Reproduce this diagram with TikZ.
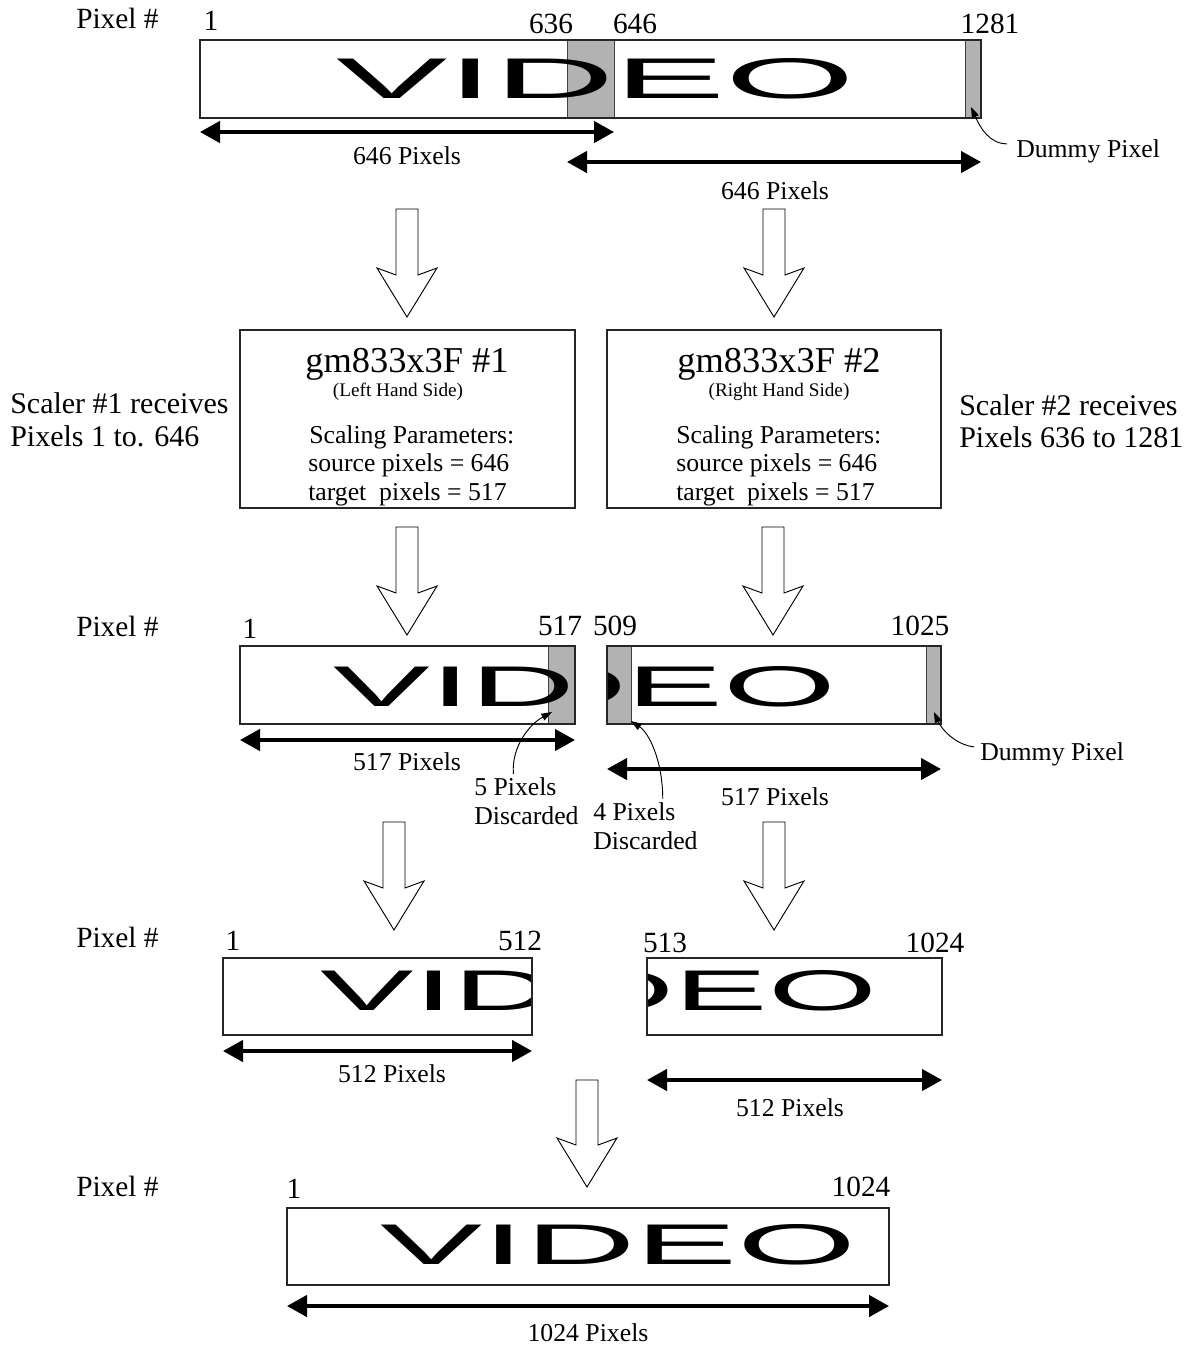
\documentclass[tikz,border=0pt]{standalone}
\usepackage{fontspec}
\setmainfont{Liberation Serif}
\newfontfamily\vidfont{Liberation Sans}
\usepackage{graphicx}
\usetikzlibrary{arrows.meta}
\definecolor{bandgray}{gray}{0.70}
\newcommand\videoword[2]{\scalebox{#1}[1]{\fontsize{43pt}{44pt}\selectfont\vidfont #2}}
\newcommand\hollowarrow[3]{%
  \draw[hollow] (#1-11,#2) -- (#1+11,#2) -- (#1+11,#3-42) -- (#1+30,#3-49) -- (#1,#3)
     -- (#1-30,#3-49) -- (#1-11,#3-42) -- cycle;}
\tikzset{
  framebox/.style={draw=black!85, line width=0.9pt},
  bandbox/.style={draw=black!75, line width=0.7pt, fill=bandgray},
  dimarrow/.style={line width=2.6pt, {Triangle[length=15pt,width=16pt]}-{Triangle[length=15pt,width=16pt]}},
  callout/.style={line width=0.7pt, -{Triangle[length=8pt,width=5.5pt]}},
  hollow/.style={draw=black, line width=0.7pt, fill=white, line join=miter},
  lbl/.style={font=\fontsize{19.3pt}{22pt}\selectfont, inner sep=0pt},
  num/.style={font=\fontsize{22pt}{24pt}\selectfont, inner sep=0pt},
  side/.style={font=\fontsize{22.5pt}{25pt}\selectfont, inner sep=0pt, anchor=base west},
  ttl/.style={font=\fontsize{27.3pt}{30pt}\selectfont, inner sep=0pt, anchor=base},
  small/.style={font=\fontsize{14.4pt}{16pt}\selectfont, inner sep=0pt, anchor=base},
  vid/.style={anchor=base west, inner sep=0pt, outer sep=0pt},
}
\begin{document}
\begin{tikzpicture}[x=0.75pt,y=-0.75pt]
\fill[white] (0,0) rectangle (1188,1347);
\useasboundingbox (0,0) rectangle (1188,1347);

% ---------------- Row 1 ----------------
\node[num,anchor=base west] (px1) at (76,28) {Pixel \#};
\node[num,anchor=base] (n1a) at (211,30) {1};
\node[num,anchor=base] (n1b) at (551,33) {636};
\node[num,anchor=base] (n1c) at (635,33) {646};
\node[num,anchor=base] (n1d) at (990,33) {1281};
\draw[bandbox] (567,40) rectangle (614,118);
\draw[bandbox] (965,40) rectangle (981,118);
\begin{scope}
  \clip (200,40) rectangle (981,118);
  \node[vid] (v1) at (336.5,98) {\videoword{2.907}{VIDEO}};
\end{scope}
\draw[framebox] (200,40) rectangle (981,118);
\coordinate (d1l) at (200,132); \coordinate (d1r) at (614,132);
\draw[dimarrow] (d1l) -- (d1r);
\node[lbl,anchor=base] (l1) at (407,164) {646 Pixels};
\coordinate (d2l) at (567,162); \coordinate (d2r) at (981,162);
\draw[dimarrow] (d2l) -- (d2r);
\node[lbl,anchor=base] (l2) at (775,199) {646 Pixels};
\node[lbl,anchor=base west] (dp1) at (1016,157) {Dummy Pixel};
\coordinate (dp1t) at (971,107);
\draw[callout] ([shift={(-9,-7)}]dp1.west) .. controls +(-18,0) and +(9,20) .. (dp1t);

% ---------------- Row 2 ----------------
\hollowarrow{407}{209}{317}
\hollowarrow{774}{209}{317}
\draw[framebox] (240,330) rectangle (575,508);
\draw[framebox] (607,330) rectangle (941,508);
\node[ttl] (t1) at (407,372) {gm833x3F \#1};
\node[small] (t1s) at (398,396) {(Left Hand Side)};
\node[lbl,anchor=base west] (p1a) at (309,443) {Scaling Parameters:};
\node[lbl,anchor=base west] (p1b) at (308,471) {source pixels = 646};
\node[lbl,anchor=base west] (p1c) at (308,500) {target\ \ pixels = 517};
\node[ttl] (t2) at (779,372) {gm833x3F \#2};
\node[small] (t2s) at (779,396) {(Right Hand Side)};
\node[lbl,anchor=base west] (p2a) at (676,443) {Scaling Parameters:};
\node[lbl,anchor=base west] (p2b) at (676,471) {source pixels = 646};
\node[lbl,anchor=base west] (p2c) at (676,500) {target\ \ pixels = 517};
\node[side] (s1a) at (10,413) {Scaler \#1 receives};
\node[side] (s1b) at (10,446) {Pixels 1 to. 646};
\node[side] (s2a) at (959,415) {Scaler \#2 receives};
\node[side] (s2b) at (959,447) {Pixels 636 to 1281};

% ---------------- Row 3 ----------------
\hollowarrow{407}{527}{635}
\hollowarrow{773}{527}{635}
\node[num,anchor=base west] (px3) at (76,636) {Pixel \#};
\node[num,anchor=base] (n3a) at (250,638) {1};
\node[num,anchor=base] (n3b) at (560,635) {517};
\node[num,anchor=base] (n3c) at (615,635) {509};
\node[num,anchor=base] (n3d) at (920,635) {1025};
\draw[bandbox] (548,646) rectangle (575,724);
\begin{scope}
  \clip (240,646) rectangle (575,724);
  \node[vid] (v3a) at (333.7,706) {\videoword{2.531}{VID}};
\end{scope}
\draw[framebox] (240,646) rectangle (575,724);
\draw[bandbox] (607,646) rectangle (631,724);
\draw[bandbox] (926,646) rectangle (941,724);
\begin{scope}
  \clip (607,646) rectangle (941,724);
  \node[vid] (v3b) at (522,706) {\videoword{2.531}{DEO}};
\end{scope}
\draw[framebox] (607,646) rectangle (941,724);
\coordinate (d3l) at (240,740); \coordinate (d3r) at (575,740);
\draw[dimarrow] (d3l) -- (d3r);
\node[lbl,anchor=base] (l3) at (407,770) {517 Pixels};
\coordinate (d4l) at (607,769); \coordinate (d4r) at (941,769);
\draw[dimarrow] (d4l) -- (d4r);
\node[lbl,anchor=base] (l4) at (775,805) {517 Pixels};
\node[lbl,anchor=base west] (fp1) at (474,795) {5 Pixels};
\node[lbl,anchor=base west] (fp2) at (474,824) {Discarded};
\coordinate (fpt) at (552,712);
\draw[callout] ([shift={(-2,-3)}]fp1.north) .. controls +(-2,-28) and +(-22,12) .. (fpt);
\node[lbl,anchor=base west] (fo1) at (593,820) {4 Pixels};
\node[lbl,anchor=base west] (fo2) at (593,849) {Discarded};
\coordinate (fot) at (631,721);
\draw[callout] ([shift={(-13,-3)}]fo1.north east) .. controls +(0,-38) and +(18,12) .. (fot);
\node[lbl,anchor=base west] (dp3) at (980,760) {Dummy Pixel};
\coordinate (dp3t) at (934,712);
\draw[callout] ([shift={(-6,-7)}]dp3.west) .. controls +(-18,-2) and +(8,18) .. (dp3t);

% ---------------- Row 4 ----------------
\hollowarrow{394}{822}{930}
\hollowarrow{774}{822}{930}
\node[num,anchor=base west] (px4) at (76,947) {Pixel \#};
\node[num,anchor=base] (n4a) at (233,950) {1};
\node[num,anchor=base] (n4b) at (520,950) {512};
\node[num,anchor=base] (n4c) at (665,952) {513};
\node[num,anchor=base] (n4d) at (935,952) {1024};
\begin{scope}
  \clip (223,958) rectangle (532,1035);
  \node[vid] (v4a) at (320.8,1010) {\videoword{2.443}{VID}};
\end{scope}
\draw[framebox] (223,958) rectangle (532,1035);
\begin{scope}
  \clip (647,958) rectangle (942,1035);
  \node[vid] (v4b) at (573.6,1010) {\videoword{2.443}{DEO}};
\end{scope}
\draw[framebox] (647,958) rectangle (942,1035);
\coordinate (d5l) at (223,1051); \coordinate (d5r) at (532,1051);
\draw[dimarrow] (d5l) -- (d5r);
\node[lbl,anchor=base] (l5) at (392,1082) {512 Pixels};
\coordinate (d6l) at (647,1080); \coordinate (d6r) at (942,1080);
\draw[dimarrow] (d6l) -- (d6r);
\node[lbl,anchor=base] (l6) at (790,1116) {512 Pixels};

% ---------------- Row 5/6 ----------------
\hollowarrow{587}{1080}{1187}
\node[num,anchor=base west] (px6) at (76,1196) {Pixel \#};
\node[num,anchor=base] (n6a) at (294,1198) {1};
\node[num,anchor=base] (n6b) at (861,1196) {1024};
\begin{scope}
  \clip (287,1208) rectangle (889,1285);
  \node[vid] (v6) at (380.6,1264) {\videoword{2.670}{VIDEO}};
\end{scope}
\draw[framebox] (287,1208) rectangle (889,1285);
\coordinate (d7l) at (287,1306); \coordinate (d7r) at (889,1306);
\draw[dimarrow] (d7l) -- (d7r);
\node[lbl,anchor=base] (l7) at (588,1341) {1024 Pixels};
\end{tikzpicture}
\end{document}
